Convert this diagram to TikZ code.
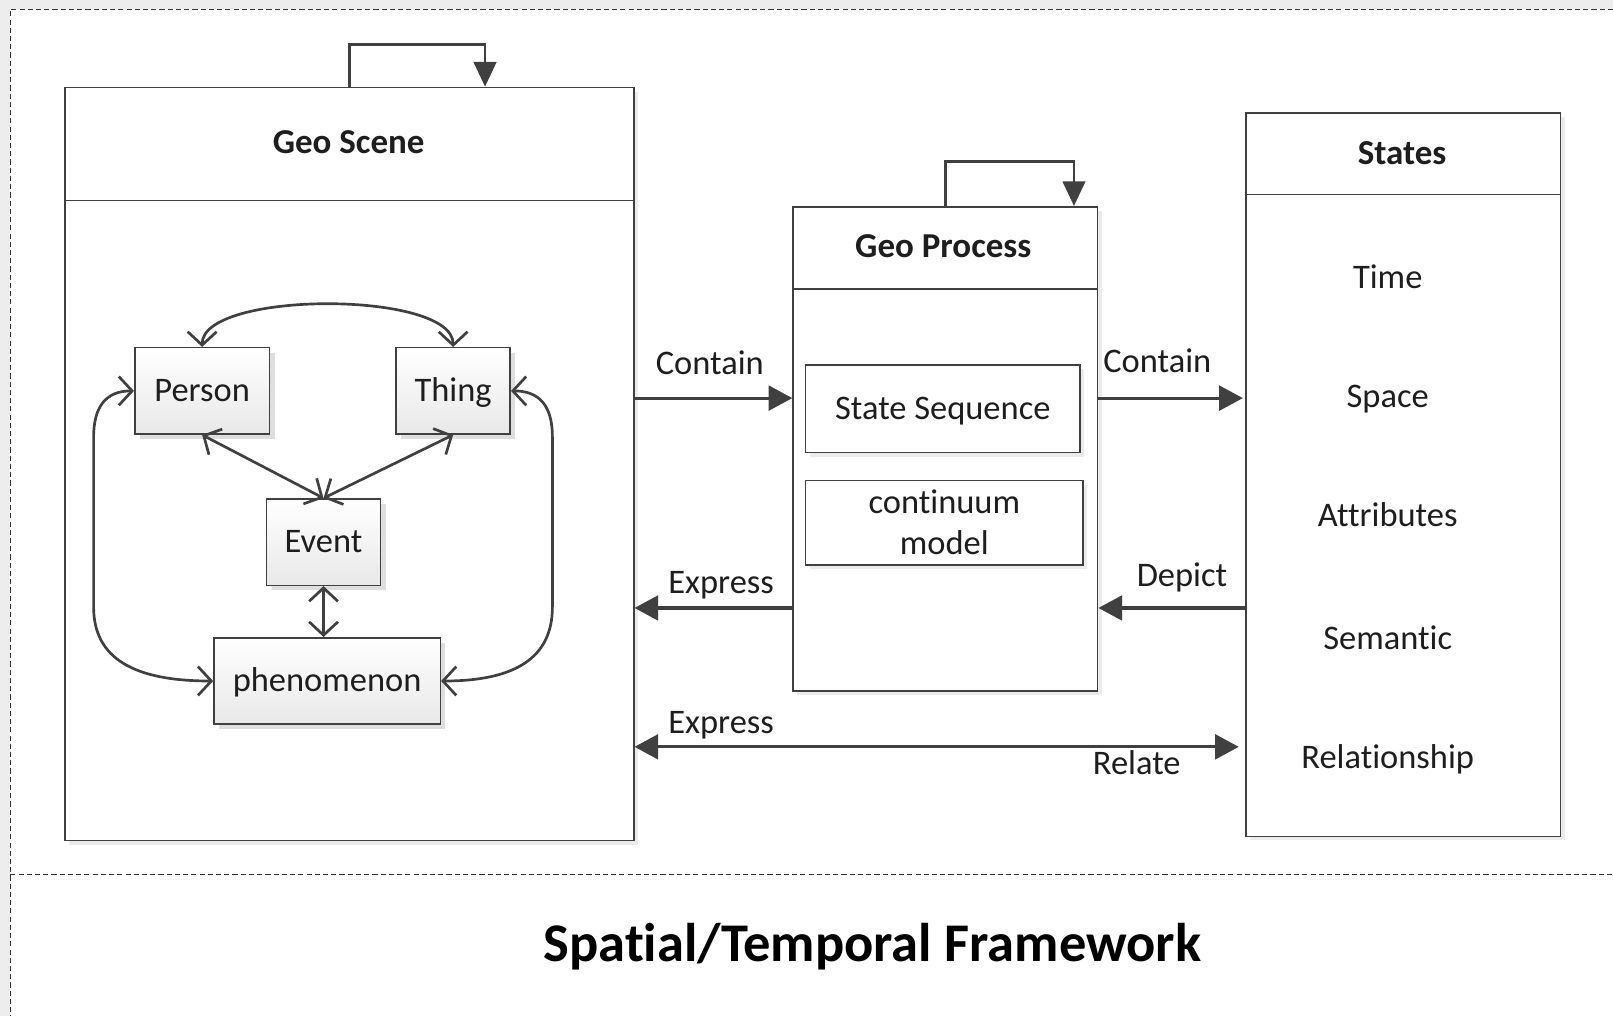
\documentclass[tikz,border=0pt]{standalone}
\usepackage{fontspec}
\setmainfont{Carlito}[RawFeature={-liga}]
\usetikzlibrary{arrows.meta,shadows,calc}
\definecolor{ink}{HTML}{404040}
\definecolor{txt}{HTML}{1E1E1E}
\definecolor{pagegray}{HTML}{EDEDED}
\begin{document}
\begin{tikzpicture}[x=1pt,y=-1pt,
  every node/.style={text=txt, font=\fontsize{33.5}{40}\selectfont},
  lbl/.style={text height=26pt, text depth=5pt, inner sep=0pt},
  frame/.style={draw=black!80, line width=1pt, dash pattern=on 5pt off 3pt},
  panel/.style={draw=ink, line width=1.6pt, fill=white,
    drop shadow={shadow xshift=4pt, shadow yshift=-4pt, fill=black!8, opacity=1}},
  entity/.style={lbl, draw=ink, line width=1.5pt, top color=white, bottom color=black!9,
    drop shadow={shadow xshift=5pt, shadow yshift=-5pt, fill=black!13, opacity=1}},
  head/.style={lbl, font=\bfseries\fontsize{34}{40}\selectfont},
  flow/.style={draw=ink, line width=3pt, -{Triangle[length=23pt,width=24pt]}},
  loopflow/.style={draw=ink, line width=2.5pt, -{Triangle[length=24pt,width=22pt]}},
  link/.style={draw=ink, line width=2.6pt,
    {Straight Barb[length=13pt,width=28pt]}-{Straight Barb[length=13pt,width=28pt]}},
]
\useasboundingbox (0,0) rectangle (1568,988);

% page and dashed frame
\fill[pagegray] (0,0) rectangle (1568,988);
\fill[white] (10,9) rectangle (1568,988);
\draw[frame] (1568,9) -- (10,9) -- (10,988);
\draw[frame] (10,850) -- (1568,850);

% main panels
\node[panel, minimum width=553pt, minimum height=732pt] (scene) at (339.5,451) {};
\node[panel, minimum width=296pt, minimum height=471pt] (proc) at (919,436.5) {};
\node[panel, minimum width=306pt, minimum height=703pt] (states) at (1364,461.5) {};

% header dividers
\draw[ink, line width=1.6pt] (scene.west |- 0,195) -- (scene.east |- 0,195);
\draw[ink, line width=1.6pt] (proc.west |- 0,281) -- (proc.east |- 0,281);
\draw[ink, line width=1.6pt] (states.west |- 0,189) -- (states.east |- 0,189);

% panel titles
\node[head] (scenetitle) at (339,139) {Geo Scene};
\node[head] (proctitle) at (917,240) {Geo Process};
\node[head] (statestitle) at (1363,149) {States};

% entities of the scene
\node[entity, minimum width=131pt, minimum height=84pt] (person) at (196.5,380) {Person};
\node[entity, minimum width=111pt, minimum height=84pt] (thing) at (440.5,380) {Thing};
\node[entity, minimum width=111pt, minimum height=84pt] (event) at (314.5,527) {Event};
\node[entity, minimum width=220pt, minimum height=84pt] (phen) at (318,662) {phenomenon};

% process contents
\node[panel, lbl, minimum width=267pt, minimum height=85pt] (seq) at (916.5,397.5) {State Sequence};
\node[panel, minimum width=270pt, minimum height=82pt, align=center, inner sep=0pt]
  (cont) at (918,508) {continuum\\model};

% state items
\node[lbl] (time) at (1349,270) {Time};
\node[lbl] (space) at (1349,386) {Space};
\node[lbl] (attr) at (1349,501) {Attributes};
\node[lbl] (sem) at (1349,621) {Semantic};
\node[lbl] (rel) at (1349,737) {Relationship};

% rows of the connectors between panels
\coordinate (rowcontain) at (0,387);
\coordinate (rowexpress) at (0,591);
\coordinate (rowrelate) at (0,726);

% self loops
\draw[loopflow] (scene.north) -- ++(0,-41) -| ([xshift=132pt]scene.north);
\draw[loopflow] (proc.north) -- ++(0,-43) -| ([xshift=125pt]proc.north);

% connectors between panels
\draw[flow] (scene.east |- rowcontain) -- (proc.west |- rowcontain);
\draw[flow] (proc.east |- rowcontain) -- ([xshift=-2pt]states.west |- rowcontain);
\draw[flow] (proc.west |- rowexpress) -- (scene.east |- rowexpress);
\draw[flow] (states.west |- rowexpress) -- (proc.east |- rowexpress);
\draw[flow, {Triangle[length=23pt,width=24pt]}-{Triangle[length=23pt,width=24pt]}]
  (scene.east |- rowrelate) -- ([xshift=-6pt]states.west |- rowrelate);

% connector labels
\node[lbl] (lcontainA) at (690,354) {Contain};
\node[lbl] (lcontainB) at (1125,352) {Contain};
\node[lbl] (lexpressA) at (701,566) {Express};
\node[lbl] (ldepict) at (1149,560) {Depict};
\node[lbl] (lexpressB) at (701,703) {Express};
\node[lbl] (lrelate) at (1105,742) {Relate};

% links among the scene entities
\draw[link] (person.north) .. controls +(0,-55) and +(0,-55) .. (thing.north);
\draw[link] (person.south) -- (event.north);
\draw[link] (thing.south) -- (event.north);
\draw[link] (event.south) -- (event.south |- phen.north);
\draw[link] (person.west) .. controls (104,380) and (91,394) .. (91,425)
  -- (91,590) .. controls (91,640) and (130,662) .. (phen.west);
\draw[link] (thing.east) .. controls (524,380) and (537,394) .. (537,425)
  -- (537,590) .. controls (537,640) and (500,662) .. (phen.east);

% caption
\node[font=\bfseries\fontsize{53}{60}\selectfont, text=black, text height=41pt, text depth=7pt, inner sep=0pt]
  (caption) at (848,918) {Spatial/Temporal Framework};
\end{tikzpicture}
\end{document}
